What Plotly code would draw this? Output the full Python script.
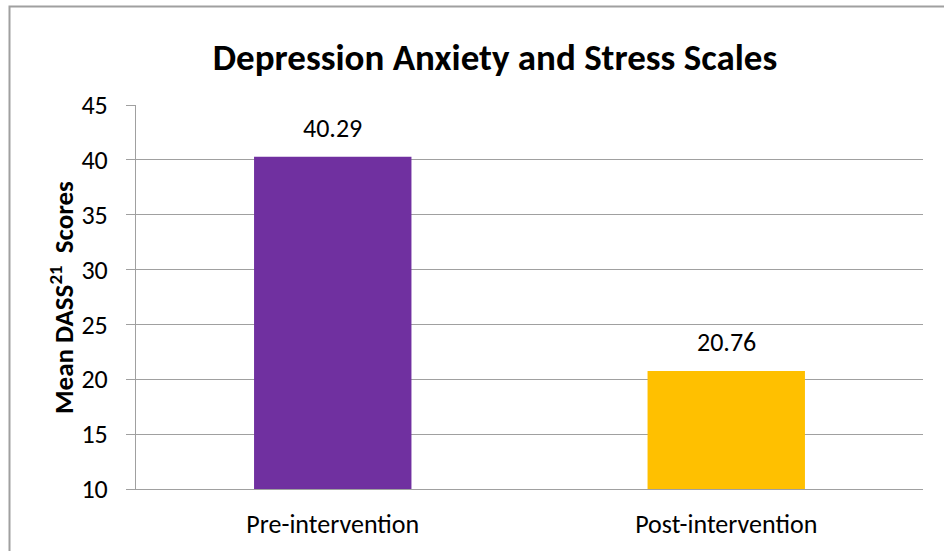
import plotly.graph_objects as go

categories = ["Pre-intervention", "Post-intervention"]
values = [40.29, 20.76]
colors = ["#7030A0", "#FFC000"]
title = "Depression Anxiety and Stress Scales"
y_title = "Mean DASS<sup>21</sup>  Scores"

FONT = "Carlito, Calibri, Lato, sans-serif"
W, H = 944, 551
L, R, T, B = 136, 21, 105, 62
pw, ph = W - L - R, H - T - B

fig = go.Figure(go.Bar(
    x=categories, y=values, marker=dict(color=colors, line=dict(width=0)),
))

for c, v in zip(categories, values):
    fig.add_annotation(x=c, y=v, xref="x", yref="y", text=f"{v:.2f}",
                       showarrow=False, yanchor="bottom", xanchor="center", yshift=11,
                       font=dict(family=FONT, size=26, color="#000"))

fig.update_layout(
    width=W, height=H, margin=dict(l=L, r=R, t=T, b=B),
    paper_bgcolor="white", plot_bgcolor="white",
    bargap=0.6, showlegend=False,
    title=dict(text=f"<b>{title}</b>", x=(495 - L) / pw, xref="paper", xanchor="center",
               y=1 - 57 / H, yanchor="middle",
               font=dict(family=FONT, size=37, color="#000")),
    font=dict(family=FONT, color="#000"),
    xaxis=dict(showgrid=False, showline=True, linecolor="#a0a0a0", linewidth=1,
               ticks="", ticklabelstandoff=12,
               tickfont=dict(size=26, family=FONT, color="#000")),
    yaxis=dict(range=[10, 45], dtick=5, tick0=10, showgrid=True, gridcolor="#a0a0a0",
               gridwidth=1, showline=True, linecolor="#a0a0a0", linewidth=1,
               ticks="outside", ticklen=9, tickcolor="#a0a0a0",
               ticksuffix="\u2002",
               tickfont=dict(size=26, family=FONT, color="#000")),
    shapes=[dict(type="rect", xref="paper", yref="paper",
                 x0=(9.5 - L) / pw, x1=(960 - L) / pw,
                 y0=-(570 - (T + ph)) / ph, y1=1 + (T - 6.5) / ph,
                 line=dict(color="#a0a0a0", width=2), layer="below")],
)
fig.add_annotation(text=f"<b>{y_title}</b>", xref="paper", yref="paper",
                   x=(62 - L) / pw, y=(T + ph - 298) / ph, textangle=-90,
                   xanchor="center", yanchor="middle", showarrow=False,
                   font=dict(size=27, family=FONT, color="#000"))

fig.write_html("out.html")
